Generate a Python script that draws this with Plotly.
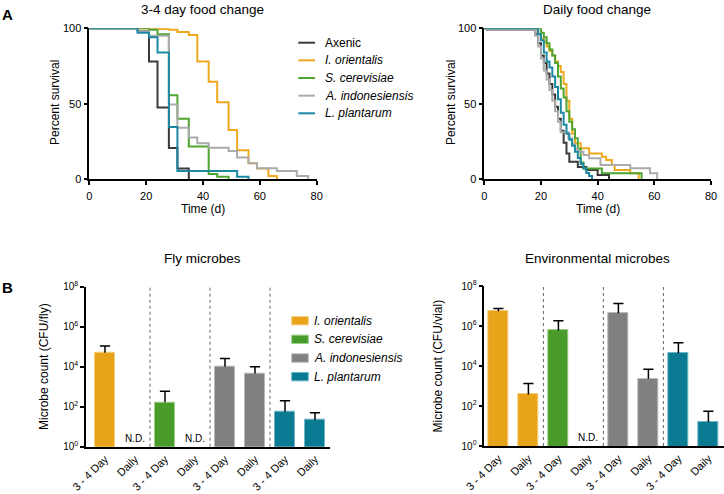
import plotly.graph_objects as go

W, H = 724, 494

# ---------------- DATA ----------------
groups = ["Axenic", "I. orientalis", "S. cerevisiae", "A. indonesiensis", "L. plantarum"]
line_colors = ["#3a3a3a", "#f0a91e", "#4ea52f", "#ababab", "#1b89a3"]

# 3-4 day food change survival (day, percent survival)
s34_axenic_d = [0, 17, 21, 24, 28, 31, 35]
s34_axenic_p = [100, 98, 78, 47.5, 20.5, 7, 0]
s34_orient_d = [0, 21, 28, 31, 35, 38, 42, 45, 49, 52, 56, 59, 63, 66]
s34_orient_p = [100, 99.5, 99, 97.5, 95.5, 78, 64.5, 51, 32.5, 19, 10.5, 7, 2, 0]
s34_cerev_d = [0, 21, 24, 28, 31, 35, 42, 45, 49]
s34_cerev_p = [100, 99, 96, 55.5, 40, 21.5, 3.3, 1.5, 0]
s34_indon_d = [0, 17, 21, 28, 31, 35, 38, 42, 49, 52, 56, 59, 66, 73, 77]
s34_indon_p = [100, 98, 95, 49.5, 34, 27.5, 23.7, 20.8, 18.6, 14.2, 10.4, 7.1, 5.3, 2, 0]
s34_plant_d = [0, 17, 21, 24, 28, 31, 52, 56]
s34_plant_p = [100, 97, 94, 84, 34.5, 5.3, 1.5, 0]

# Daily food change survival
sd_axenic_d = [0, 1, 18, 19, 20, 21, 22, 23, 24, 25, 26, 27, 28, 29, 30, 33, 36, 40, 44]
sd_axenic_p = [100, 99, 96, 90, 82, 77, 70, 63, 56, 48, 40, 32, 24, 17, 11.5, 8, 6, 2.7, 0]
sd_orient_d = [0, 2, 19, 20, 21, 22, 23, 24, 25, 26, 27, 28, 29, 30, 31, 32, 34, 37, 41.5, 43, 45, 46, 51.5, 54.5]
sd_orient_p = [100, 99.5, 96, 93, 91, 88, 85, 82, 78, 75, 71, 63, 52, 40, 30, 23.7, 20.4, 17, 14.8, 12.6, 9.3, 6, 3.8, 0]
sd_cerev_d = [0, 20, 21, 22, 23, 24, 25, 26, 27, 28, 29, 30, 31, 32, 33, 34, 35, 41.5, 55.5]
sd_cerev_p = [100, 97, 94, 90, 86, 82, 77, 68, 60, 54, 45, 38, 33, 27, 20, 11, 7, 3.8, 0]
sd_indon_d = [0, 1, 18, 19, 20, 21, 22, 23, 24, 25, 26, 27, 29.7, 31, 32, 33, 35, 37, 41, 51.5, 58.5, 61]
sd_indon_p = [100, 99, 95, 88, 80, 72, 66, 59, 52, 45, 38, 31, 27, 23, 20, 18, 16, 13.7, 9.3, 7.1, 3.8, 0]
sd_plant_d = [0, 19, 20, 21, 22, 23, 24, 25, 26, 27, 28, 29, 30, 31, 32, 33, 34, 35, 36, 37, 38]
sd_plant_p = [100, 96, 92, 84, 78, 74, 68, 61, 53, 44, 36, 30, 26, 22, 18, 14, 10, 7, 4, 2, 0]

surv_34 = [(s34_axenic_d, s34_axenic_p), (s34_orient_d, s34_orient_p), (s34_cerev_d, s34_cerev_p),
           (s34_indon_d, s34_indon_p), (s34_plant_d, s34_plant_p)]
surv_daily = [(sd_axenic_d, sd_axenic_p), (sd_orient_d, sd_orient_p), (sd_cerev_d, sd_cerev_p),
              (sd_indon_d, sd_indon_p), (sd_plant_d, sd_plant_p)]

# Microbe counts
species = ["I. orientalis", "S. cerevisiae", "A. indonesiensis", "L. plantarum"]
bar_colors = ["#e9a31b", "#4a9c2a", "#808080", "#0a7b93"]
bar_edges = ["#f5cf7c", "#9ccf85", "#b8b8b8", "#6fb6c6"]
conditions = ["3 - 4 Day", "Daily"]
bar_labels = [c for s in species for c in conditions]

fly_mean = [5.0e4, None, 165, None, 1.0e4, 4.6e3, 56, 21.5]
fly_upper = [1.07e5, None, 600, None, 2.6e4, 1.0e4, 200, 50]
env_mean = [5.4e6, 380, 6.0e5, None, 4.3e6, 2.3e3, 4.3e4, 16]
env_upper = [7.6e6, 1350, 1.85e6, None, 1.35e7, 6.8e3, 1.47e5, 54]

FONT = "Arial"


def px(x):
    return x / W


def py(y):
    return 1 - y / H


fig = go.Figure()

# ---------------- survival curves ----------------
for (d, p), name, col in zip(surv_34, groups, line_colors):
    fig.add_trace(go.Scatter(x=d, y=p, mode="lines", line=dict(color=col, width=2, shape="hv"),
                             name=name, xaxis="x", yaxis="y", showlegend=False))
for (d, p), name, col in zip(surv_daily, groups, line_colors):
    fig.add_trace(go.Scatter(x=d, y=p, mode="lines", line=dict(color=col, width=2, shape="hv"),
                             name=name, xaxis="x2", yaxis="y2", showlegend=False))

# ---------------- bars ----------------
idx = list(range(len(bar_labels)))
cols8 = [c for c in bar_colors for _ in conditions]
edges8 = [c for c in bar_edges for _ in conditions]


def add_bars(mean, upper, xa, ya):
    fig.add_trace(go.Bar(x=idx, y=mean, marker=dict(color=cols8, line=dict(color=edges8, width=1)),
                         width=0.66, xaxis=xa, yaxis=ya, showlegend=False))
    ex, ey = [], []
    for i, m, u in zip(idx, mean, upper):
        if m is None:
            continue
        ex += [i, i, None, i - 0.17, i + 0.17, None]
        ey += [m, u, None, u, u, None]
    fig.add_trace(go.Scatter(x=ex, y=ey, mode="lines", line=dict(color="black", width=1.5),
                             xaxis=xa, yaxis=ya, showlegend=False, hoverinfo="skip"))


add_bars(fly_mean, fly_upper, "x3", "y3")
add_bars(env_mean, env_upper, "x4", "y4")

axis_common = dict(showgrid=False, zeroline=False, showline=True, linecolor="black", linewidth=1.5,
                   ticks="outside", ticklen=4, tickwidth=1.5, tickcolor="black", automargin=False,
                   tickfont=dict(family=FONT, size=11, color="black"))
time_axis = dict(axis_common, ticklabelstandoff=2)
cat_axis = dict(showgrid=False, zeroline=False, showline=True, linecolor="black", linewidth=1.5,
                ticks="", automargin=False, tickangle=-45,
                tickfont=dict(family=FONT, size=11, color="black"))
log_axis = dict(axis_common, tickfont=dict(family=FONT, size=10, color="black"))

log_ticks = [1, 1e2, 1e4, 1e6, 1e8]
log_text = ["10<sup>0</sup>", "10<sup>2</sup>", "10<sup>4</sup>", "10<sup>6</sup>", "10<sup>8</sup>"]

fig.update_layout(
    template="none",
    width=W, height=H, margin=dict(l=0, r=0, t=0, b=0, pad=0, autoexpand=False),
    paper_bgcolor="white", plot_bgcolor="white",
    font=dict(family=FONT, color="black"),
    xaxis=dict(domain=[px(89.3), px(316.7)], range=[0, 80], tickvals=[0, 20, 40, 60, 80],
               anchor="y", **time_axis),
    yaxis=dict(domain=[py(179), py(28.3)], range=[0, 100], tickvals=[0, 50, 100],
               anchor="x", **axis_common),
    xaxis2=dict(domain=[px(484.3), px(711)], range=[0, 80], tickvals=[0, 20, 40, 60, 80],
                anchor="y2", **time_axis),
    yaxis2=dict(domain=[py(179), py(28.3)], range=[0, 100], tickvals=[0, 50, 100],
                anchor="x2", **axis_common),
    xaxis3=dict(domain=[px(86), px(330)], range=[-0.633, 7.5], tickvals=idx, ticktext=bar_labels,
                anchor="y3", **cat_axis),
    yaxis3=dict(domain=[py(446.7), py(286.7)], type="log", range=[0, 8], tickvals=log_ticks,
                ticktext=log_text, anchor="x3", **log_axis),
    xaxis4=dict(domain=[px(484.3), 1.0], range=[-0.47, 7.52], tickvals=idx, ticktext=bar_labels,
                anchor="y4", **cat_axis),
    yaxis4=dict(domain=[py(446), py(286)], type="log", range=[0, 8], tickvals=log_ticks,
                ticktext=log_text, anchor="x4", **log_axis),
    bargap=0,
    showlegend=False,
)

# separators
for xa, ya in [("x3", "y3"), ("x4", "y4")]:
    for s in [1.5, 3.5, 5.5]:
        fig.add_shape(type="line", xref=xa, yref=ya + " domain", x0=s, x1=s, y0=0, y1=1,
                      line=dict(color="#666666", width=1, dash="dot"))

# N.D. labels
for xa, ya, mean in [("x3", "y3", fly_mean), ("x4", "y4", env_mean)]:
    for i, m in zip(idx, mean):
        if m is None:
            fig.add_annotation(x=i, y=0, xref=xa, yref=ya, text="N.D.", showarrow=False,
                               xanchor="center", yanchor="bottom", yshift=1,
                               font=dict(family=FONT, size=10, color="black"))


def text(x, y, t, size, xanchor="center", **kw):
    fig.add_annotation(x=px(x), y=py(y), xref="paper", yref="paper", text=t, showarrow=False,
                       xanchor=xanchor, yanchor="middle",
                       font=dict(family=FONT, size=size, color="black"), **kw)


# titles
text(202.7, 9, "3-4 day food change", 13.5)
text(597, 9, "Daily food change", 13.5)
text(202, 258, "Fly microbes", 13.5)
text(597, 258, "Environmental microbes", 13.5)
text(7.5, 14, "<b>A</b>", 15)
text(7.5, 287, "<b>B</b>", 15)

# axis titles
text(55, 103, "Percent survival", 12, textangle=-90)
text(451, 103, "Percent survival", 12, textangle=-90)
text(202.7, 209, "Time (d)", 12)
text(597.6, 209, "Time (d)", 12)
text(44, 367, "Microbe count (CFU/fly)", 12, textangle=-90)
text(437.5, 366, "Microbe count (CFU/vial)", 12, textangle=-90)

# legend for survival plots
for k, (name, col) in enumerate(zip(groups, line_colors)):
    yc = 42.7 + k * 17.65
    fig.add_shape(type="line", xref="paper", yref="paper", x0=px(298.3), x1=px(315),
                  y0=py(yc), y1=py(yc), line=dict(color=col, width=2))
    label = name if name == "Axenic" else "<i>" + name + "</i>"
    text(323.3, yc, label, 12, xanchor="left")

# legend for bar plots
for k, (name, col) in enumerate(zip(species, bar_colors)):
    yc = 320.7 + k * 18.65
    fig.add_shape(type="rect", xref="paper", yref="paper", x0=px(291.7), x1=px(308.3),
                  y0=py(yc + 4.2), y1=py(yc - 4.2), fillcolor=col, line=dict(color=bar_edges[k], width=1))
    text(312, yc, "<i>" + name + "</i>", 12, xanchor="left")

# remove the default page margin so the figure sits at the window's top-left corner
fig.write_html("out.html", config={"displayModeBar": False},
               post_script="document.body.style.margin='0px';")
